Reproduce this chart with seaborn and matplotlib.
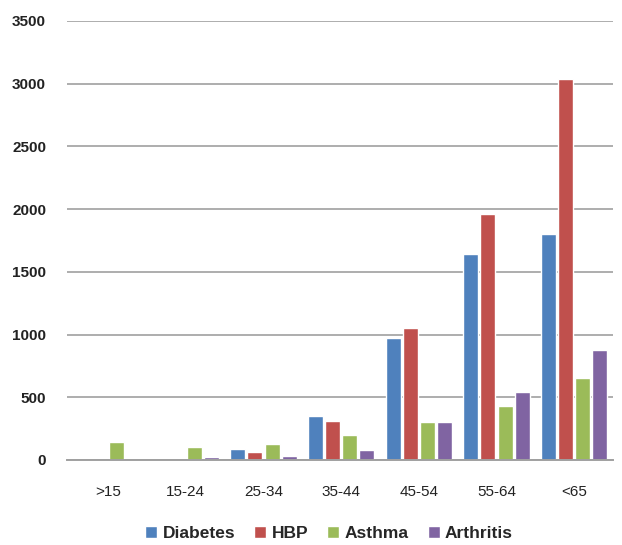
import matplotlib
matplotlib.use("Agg")
import matplotlib.pyplot as plt
import seaborn as sns
import pandas as pd

age_groups = [">15", "15-24", "25-34", "35-44", "45-54", "55-64", "<65"]
diabetes = [0, 0, 85, 350, 975, 1640, 1800]
hbp = [0, 0, 60, 310, 1055, 1960, 3040]
asthma = [140, 105, 125, 200, 300, 430, 655]
arthritis = [0, 20, 35, 80, 300, 540, 880]
series_names = ["Diabetes", "HBP", "Asthma", "Arthritis"]
colors = ["#4F81BD", "#C0504D", "#9BBB59", "#8064A2"]

rows = []
for name, vals in zip(series_names, [diabetes, hbp, asthma, arthritis]):
    for g, v in zip(age_groups, vals):
        rows.append({"Age": g, "Condition": name, "Count": v})
df = pd.DataFrame(rows)

sns.set_theme(style="white")
plt.rcParams["font.family"] = ["Liberation Sans", "DejaVu Sans"]

fig = plt.figure(figsize=(6.22, 5.45), dpi=100)
ax = fig.add_axes([0.1077, 0.156, 0.8778, 0.8055])

sns.barplot(data=df, x="Age", y="Count", hue="Condition", order=age_groups,
            hue_order=series_names, palette=colors, width=0.88, gap=0.12,
            saturation=1, ax=ax, legend=True)

ax.set_ylim(0, 3500)
ax.set_yticks(range(0, 3501, 500))
ax.set_xlim(-0.53, len(age_groups) - 0.5)
ax.yaxis.grid(True, color="#a0a0a0", linewidth=1.2)
ax.set_axisbelow(True)
for side in ["left", "right", "top"]:
    ax.spines[side].set_visible(False)
ax.spines["bottom"].set_color("#a0a0a0")
ax.spines["bottom"].set_linewidth(1.4)
ax.set_xlabel("")
ax.set_ylabel("")
ax.tick_params(axis="y", length=0, pad=15, labelsize=11, labelcolor="#222222")
ax.tick_params(axis="x", length=0, pad=18, labelsize=11, labelcolor="#222222")
for lbl in ax.get_yticklabels():
    lbl.set_fontweight("bold")

ax.legend(loc="upper center", bbox_to_anchor=(0.48, -0.115), ncol=4, frameon=False,
          handlelength=0.7, handleheight=0.7, handletextpad=0.3, columnspacing=1.1,
          prop={"size": 12.5, "weight": "bold"})

fig.savefig("out.png", dpi=100)
